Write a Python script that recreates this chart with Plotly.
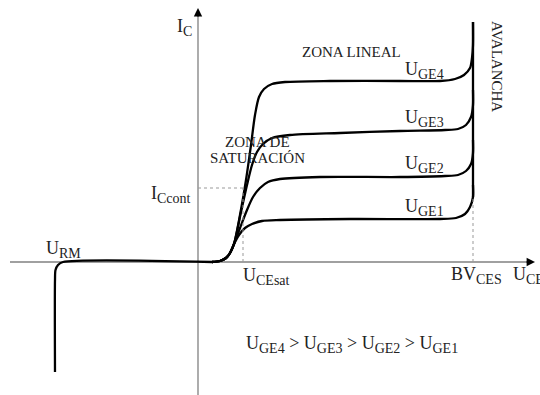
import plotly.graph_objects as go

# Schematic IGBT output characteristic (arbitrary units, origin at axis crossing)

# reverse-blocking branch and the common knee near the origin
reverse_x = [-143, -143, -142.5, -140, -135, 14]
reverse_y = [-110, -18, -8, -3, 0, 0]

# one curve per gate voltage, ending on the avalanche line
uge4_x = [14, 22, 28, 32, 36, 42, 48, 53, 57, 61, 66, 74, 87, 132, 202, 242, 257, 266, 272, 274, 275, 275]
uge4_y = [0, 1, 4, 9, 18, 47, 82, 117, 147, 165, 173, 178, 180, 181, 181, 181, 183, 187, 194, 204, 217, 240]

uge3_x = [14, 22, 28, 32, 36, 43, 49, 54, 59, 65, 74, 92, 142, 202, 247, 260, 268, 273, 275, 275]
uge3_y = [0, 1, 4, 9, 18, 50, 77, 97, 110, 118, 124, 127, 129, 131, 132, 133, 137, 145, 157, 172]

uge2_x = [14, 22, 28, 32, 36, 42, 49, 55, 62, 70, 82, 122, 202, 247, 260, 268, 273, 275, 275]
uge2_y = [0, 1, 4, 9, 18, 34, 52, 65, 74, 80, 83, 85, 85, 86, 87, 91, 98, 109, 122]

uge1_x = [14, 22, 28, 32, 36, 41, 47, 54, 64, 82, 152, 242, 258, 267, 272, 275, 275]
uge1_y = [0, 1, 4, 9, 18, 27, 34, 38, 41, 42, 43, 43, 44, 48, 55, 65, 77]

# avalanche (breakdown) line
aval_x = [275, 275]
aval_y = [65, 240]

# reference levels
ic_cont = 74
uce_sat = 45
bv_ces = 275

SERIF = "Liberation Serif"
CURVE = dict(color="black", width=2.3, shape="spline", smoothing=0.8)

fig = go.Figure()

fig.add_trace(go.Scatter(x=reverse_x, y=reverse_y, mode="lines", line=CURVE, hoverinfo="skip"))
for xs, ys in [(uge4_x, uge4_y), (uge3_x, uge3_y), (uge2_x, uge2_y), (uge1_x, uge1_y)]:
    fig.add_trace(go.Scatter(x=xs, y=ys, mode="lines", line=CURVE, hoverinfo="skip"))
fig.add_trace(go.Scatter(x=aval_x, y=aval_y, mode="lines",
                         line=dict(color="black", width=2.3), hoverinfo="skip"))

# dotted guide lines
dot = dict(color="#999999", width=1, dash="dot")
fig.add_trace(go.Scatter(x=[0, uce_sat], y=[ic_cont, ic_cont], mode="lines", line=dot, hoverinfo="skip"))
fig.add_trace(go.Scatter(x=[uce_sat, uce_sat], y=[0, ic_cont], mode="lines", line=dot, hoverinfo="skip"))
fig.add_trace(go.Scatter(x=[bv_ces, bv_ces], y=[0, 65], mode="lines", line=dot, hoverinfo="skip"))

shapes = [
    dict(type="line", x0=-188, y0=0, x1=334, y1=0, line=dict(color="#808080", width=1.3), layer="below"),
    dict(type="line", x0=0, y0=-133, x1=0, y1=251, line=dict(color="#808080", width=1.3), layer="below"),
]

annotations = [
    # arrow heads of the axes
    dict(x=337, y=0, ax=327, ay=0, xref="x", yref="y", axref="x", ayref="y", text="",
         showarrow=True, arrowhead=2, arrowsize=1.4, arrowwidth=1.2, arrowcolor="black", standoff=0),
    dict(x=0, y=254, ax=0, ay=244, xref="x", yref="y", axref="x", ayref="y", text="",
         showarrow=True, arrowhead=2, arrowsize=1.4, arrowwidth=1.2, arrowcolor="black", standoff=0),
]


def sub(main, low, low_size=14):
    return f"{main}<sub><span style='font-size:{low_size}px'>{low}</span></sub>"


def label(x, y, text, xanchor="left", size=18, angle=0):
    annotations.append(dict(x=x, y=y, xref="x", yref="y", text=text, showarrow=False,
                            xanchor=xanchor, yanchor="middle", textangle=angle,
                            font=dict(family=SERIF, size=size, color="#222222")))


label(-4, 235, sub("I", "C"), xanchor="right")
label(-5, 68, sub("I", "Ccont"), xanchor="right")
label(-154, 13, sub("U", "RM"))
label(43, -14, sub("U", "CEsat"))
label(251, -13, sub("BV", "CES"))
label(313, -13, sub("U", "CE"))
label(205, 192, sub("U", "GE4"))
label(205, 144, sub("U", "GE3"))
label(205, 98, sub("U", "GE2"))
label(205, 55, sub("U", "GE1"))
label(153, 210, "ZONA LINEAL", xanchor="center", size=15)
label(59, 120, "ZONA DE", xanchor="center", size=15)
label(59, 104, "SATURACIÓN", xanchor="center", size=15)
label(299, 196, "AVALANCHA", xanchor="center", size=15, angle=90)
label(46, -82, " > ".join(sub("U", f"GE{n}") for n in (4, 3, 2, 1)))

fig.update_layout(
    width=540, height=395,
    margin=dict(l=0, r=0, t=0, b=0),
    paper_bgcolor="white", plot_bgcolor="white",
    showlegend=False,
    xaxis=dict(range=[-198, 342], visible=False, fixedrange=True),
    yaxis=dict(range=[-133, 262], visible=False, fixedrange=True),
    shapes=shapes,
    annotations=annotations,
)

fig.write_html("out.html")
